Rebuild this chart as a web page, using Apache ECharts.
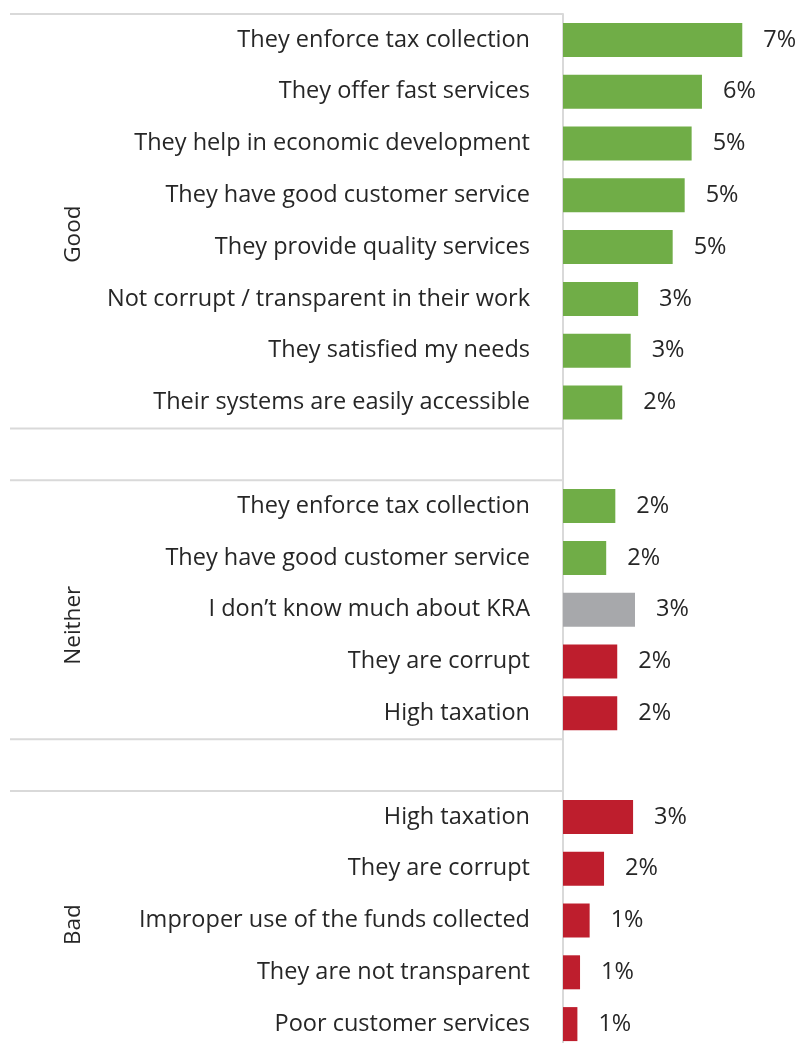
<!DOCTYPE html>
<html>
<head>
<meta charset="utf-8">
<script src="https://cdn.jsdelivr.net/npm/echarts@6/dist/echarts.min.js"></script>
<style>
  html, body { margin: 0; padding: 0; background: #ffffff; }
  #chart { width: 798px; height: 1043px; }
</style>
</head>
<body>
<div id="chart"></div>
<script>
// ---- data ----
const groupNames = ['Good', 'Neither', 'Bad'];

const goodLabels = [
  'They enforce tax collection',
  'They offer fast services',
  'They help in economic development',
  'They have good customer service',
  'They provide quality services',
  'Not corrupt / transparent in their work',
  'They satisfied my needs',
  'Their systems are easily accessible'
];
const goodValues = [7.47, 5.79, 5.36, 5.07, 4.57, 3.13, 2.82, 2.47];
const goodTones = ['pos', 'pos', 'pos', 'pos', 'pos', 'pos', 'pos', 'pos'];

const neitherLabels = [
  'They enforce tax collection',
  'They have good customer service',
  'I don\u2019t know much about KRA',
  'They are corrupt',
  'High taxation'
];
const neitherValues = [2.18, 1.80, 3.00, 2.26, 2.26];
const neitherTones = ['pos', 'pos', 'neu', 'neg', 'neg'];

const badLabels = [
  'High taxation',
  'They are corrupt',
  'Improper use of the funds collected',
  'They are not transparent',
  'Poor customer services'
];
const badValues = [2.92, 1.71, 1.11, 0.71, 0.60];
const badTones = ['neg', 'neg', 'neg', 'neg', 'neg'];

// ---- styles ----
const toneColors = { pos: '#70AD47', neu: '#A7A8AB', neg: '#BE1E2D' };
const textColor = '#262626';
const lineColor = '#D9D9D9';
const fontFamily = '"Open Sans", "Noto Sans", sans-serif';

// ---- build rows (blank separator row between groups) ----
const groups = [
  { labels: goodLabels, values: goodValues, tones: goodTones },
  { labels: neitherLabels, values: neitherValues, tones: neitherTones },
  { labels: badLabels, values: badValues, tones: badTones }
];
const categories = [];
const seriesData = [];
const groupStart = [];
groups.forEach((g, gi) => {
  if (gi > 0) { categories.push(''); seriesData.push(null); }
  groupStart.push(categories.length);
  g.labels.forEach((lab, i) => {
    categories.push(lab);
    seriesData.push({ value: g.values[i], itemStyle: { color: toneColors[g.tones[i]] } });
  });
});

const chart = echarts.init(document.getElementById('chart'), null, { renderer: 'canvas' });

const option = {
  backgroundColor: '#ffffff',
  animation: false,
  grid: { left: 563, top: 14, width: 216, height: 1036, containLabel: false, outerBoundsMode: 'none' },
  xAxis: {
    type: 'value', min: 0, max: 9, show: false
  },
  yAxis: {
    type: 'category',
    inverse: true,
    data: categories,
    axisLine: { show: true, lineStyle: { color: lineColor, width: 2 } },
    axisTick: { show: false },
    splitLine: { show: false },
    axisLabel: {
      margin: 33,
      color: textColor,
      fontSize: 23.5,
      fontFamily: fontFamily,
      interval: 0
    }
  },
  series: [{
    type: 'bar',
    data: seriesData,
    barWidth: 34,
    label: {
      show: true,
      position: 'right',
      distance: 21,
      color: textColor,
      fontSize: 23.5,
      fontFamily: fontFamily,
      formatter: p => (p.value == null ? '' : Math.round(p.value) + '%')
    }
  }]
};
chart.setOption(option);

// separators and group labels positioned from the category axis
const y0 = chart.convertToPixel({ yAxisIndex: 0 }, 0);
const y1 = chart.convertToPixel({ yAxisIndex: 0 }, 1);
const band = y1 - y0;
const rowTop = i => y0 + band * (i - 0.5);

const boundaries = [0];
groupStart.forEach((s, gi) => { if (gi > 0) { boundaries.push(s - 1); boundaries.push(s); } });

const graphics = boundaries.map(i => ({
  type: 'line',
  shape: { x1: 10, y1: rowTop(i), x2: 563, y2: rowTop(i) },
  style: { stroke: lineColor, lineWidth: 2 },
  silent: true
}));

const labelOffsets = [0.25, 0.3, 0.08];
groups.forEach((g, gi) => {
  const mid = groupStart[gi] + (g.labels.length - 1) / 2 + labelOffsets[gi];
  graphics.push({
    type: 'text',
    x: 74,
    y: y0 + band * mid,
    rotation: Math.PI / 2,
    style: {
      text: groupNames[gi],
      fill: textColor,
      font: '22.5px ' + fontFamily,
      align: 'center',
      verticalAlign: 'middle'
    },
    silent: true
  });
});

chart.setOption({ graphic: graphics });
</script>
</body>
</html>
